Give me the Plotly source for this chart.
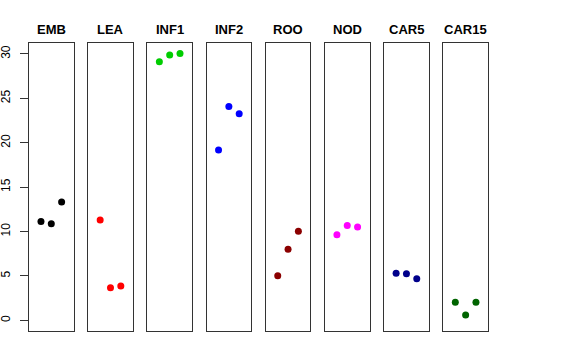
import plotly.graph_objects as go

categories = ["EMB", "LEA", "INF1", "INF2", "ROO", "NOD", "CAR5", "CAR15"]
replicate = [1, 2, 3]
emb = [11.12, 10.89, 13.34]
lea = [11.31, 3.68, 3.87]
inf1 = [29.12, 29.87, 30.06]
inf2 = [19.17, 24.08, 23.26]
roo = [5.03, 8.00, 10.03]
nod = [9.65, 10.67, 10.52]
car5 = [5.30, 5.26, 4.69]
car15 = [2.03, 0.60, 2.03]
y_ticks = [0, 5, 10, 15, 20, 25, 30]

series = [emb, lea, inf1, inf2, roo, nod, car5, car15]
colors = ["#000000", "#FF0000", "#00CD00", "#0000FF", "#8B0000", "#FF00FF", "#00008B", "#006400"]

W, H = 576, 360
left0, step, pw = 29.0, 59.19, 44.6
ytop, ybot = 43.3, 331.0

fig = go.Figure()
for i, (cat, vals, col) in enumerate(zip(categories, series, colors)):
    xa = "x" if i == 0 else f"x{i+1}"
    ya = "y" if i == 0 else f"y{i+1}"
    fig.add_trace(go.Scatter(x=replicate, y=vals, mode="markers",
                             marker=dict(color=col, size=7, line=dict(width=0)),
                             xaxis=xa, yaxis=ya, showlegend=False, hoverinfo="skip"))
    l = left0 + i * step
    dom = [l / W, (l + pw) / W]
    xkey = "xaxis" if i == 0 else f"xaxis{i+1}"
    ykey = "yaxis" if i == 0 else f"yaxis{i+1}"
    fig.layout[xkey] = dict(domain=dom, range=[-0.16, 4.16], showticklabels=False,
                            ticks="", showgrid=False, zeroline=False, showline=True,
                            mirror=True, linecolor="#333333", linewidth=1,
                            anchor=ya, automargin=False, fixedrange=True)
    yd = dict(domain=[1 - ybot / H, 1 - ytop / H], range=[-1.2, 31.2], showgrid=False,
              zeroline=False, showline=True, mirror=True, linecolor="#333333",
              linewidth=1, anchor=xa, automargin=False)
    if i == 0:
        yd.update(tickvals=y_ticks, ticktext=[str(v) for v in y_ticks], ticks="outside",
                  ticklen=8, tickcolor="#333333", tickangle=-90,
                  tickfont=dict(family="Liberation Sans, Arial", size=12, color="#000000"),
                  ticklabelstandoff=5)
    else:
        yd.update(showticklabels=False, ticks="")
    fig.layout[ykey] = yd
    fig.add_annotation(x=(l + pw / 2) / W, y=1 - 29.5 / H, xref="paper", yref="paper",
                       text=f"<b>{cat}</b>", showarrow=False, xanchor="center", yanchor="middle",
                       font=dict(family="Liberation Sans, Arial", size=13, color="#000000"))

fig.update_layout(width=W, height=H, margin=dict(l=0, r=0, t=0, b=0),
                  paper_bgcolor="white", plot_bgcolor="white", template="none")
fig.write_html("out.html", config={"displayModeBar": False},
               post_script="document.body.style.margin='0px';")
